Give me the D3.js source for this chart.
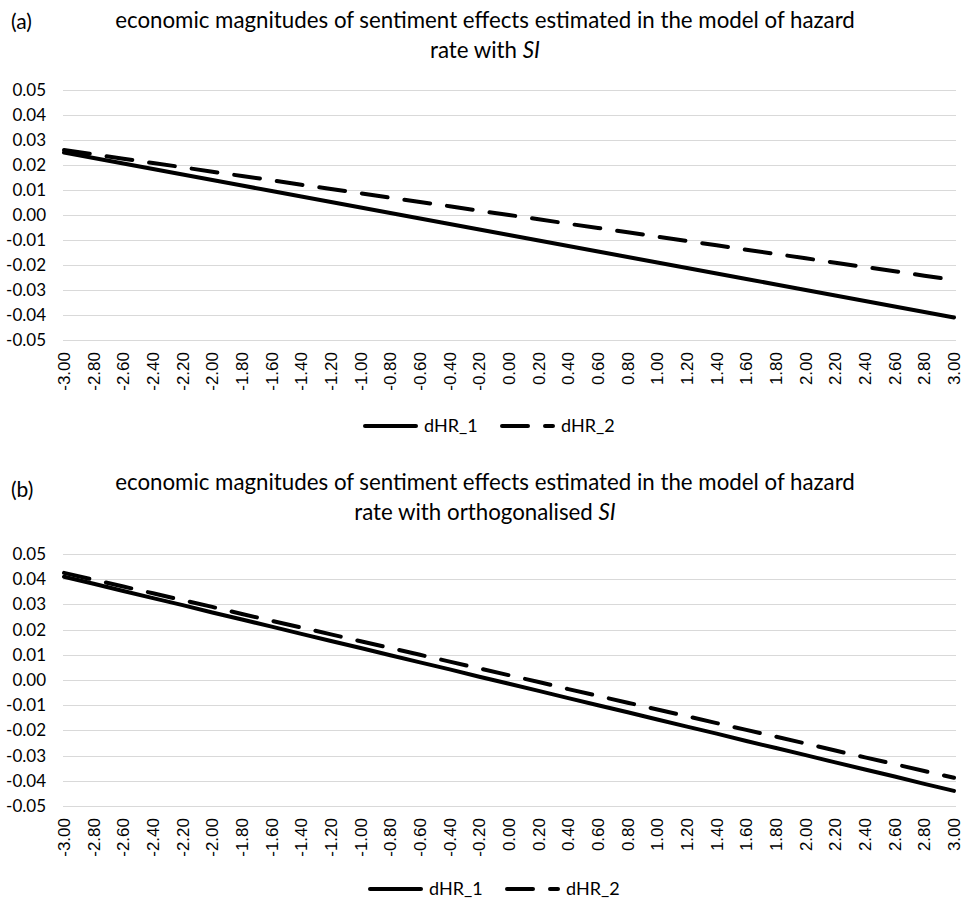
<!DOCTYPE html>
<meta charset="utf-8">
<style>
    body { margin: 0; background: #fff; }
    .grid line { stroke: #d9d9d9; stroke-width: 1; shape-rendering: crispEdges; }
    .ylab { font: 17px Lato, sans-serif; fill: #000; }
    .xlab { font: 17px "Liberation Sans", Arial, sans-serif; fill: #000; }
    .title { font-family: Lato, sans-serif; font-size: 21px; fill: #000; }
    .leg { font: 18px Lato, sans-serif; fill: #000; }
</style>
<body>
<script src="https://d3js.org/d3.v7.min.js"></script>
<script>

    var width = 966,
        height = 900;

    // categories on the x axis
    var categories = ["-3.00","-2.80","-2.60","-2.40","-2.20","-2.00","-1.80","-1.60","-1.40","-1.20",
        "-1.00","-0.80","-0.60","-0.40","-0.20","0.00","0.20","0.40","0.60","0.80",
        "1.00","1.20","1.40","1.60","1.80","2.00","2.20","2.40","2.60","2.80","3.00"];

    var yTicks = [0.05, 0.04, 0.03, 0.02, 0.01, 0.00, -0.01, -0.02, -0.03, -0.04, -0.05];

    // panel (a)
    var a_dHR1 = [0.0250, 0.0228, 0.0206, 0.0184, 0.0162, 0.0140, 0.0118, 0.0096, 0.0074, 0.0052,
        0.0030, 0.0008, -0.0014, -0.0036, -0.0058, -0.0080, -0.0102, -0.0124, -0.0146, -0.0168,
        -0.0190, -0.0212, -0.0234, -0.0256, -0.0278, -0.0300, -0.0322, -0.0344, -0.0366, -0.0388, -0.0410];
    var a_dHR2 = [0.0260, 0.0243, 0.0225, 0.0208, 0.0191, 0.0173, 0.0156, 0.0139, 0.0121, 0.0104,
        0.0087, 0.0069, 0.0052, 0.0035, 0.0017, 0.0000, -0.0017, -0.0035, -0.0052, -0.0069,
        -0.0087, -0.0104, -0.0121, -0.0139, -0.0156, -0.0173, -0.0191, -0.0208, -0.0225, -0.0243, -0.0260];

    // panel (b)
    var b_dHR1 = [0.0410, 0.0382, 0.0353, 0.0325, 0.0297, 0.0268, 0.0240, 0.0212, 0.0183, 0.0155,
        0.0127, 0.0098, 0.0070, 0.0042, 0.0013, -0.0015, -0.0043, -0.0072, -0.0100, -0.0128,
        -0.0157, -0.0185, -0.0213, -0.0242, -0.0270, -0.0298, -0.0327, -0.0355, -0.0383, -0.0412, -0.0440];
    var b_dHR2 = [0.0425, 0.0398, 0.0371, 0.0344, 0.0317, 0.0290, 0.0262, 0.0235, 0.0208, 0.0181,
        0.0154, 0.0127, 0.0100, 0.0073, 0.0046, 0.0019, -0.0008, -0.0036, -0.0063, -0.0090,
        -0.0117, -0.0144, -0.0171, -0.0198, -0.0225, -0.0252, -0.0280, -0.0307, -0.0334, -0.0361, -0.0388];

    var seriesNames = ["dHR_1", "dHR_2"];

    var svg = d3.select("body").append("svg")
        .attr("width", width)
        .attr("height", height);

    var x = d3.scalePoint()
        .domain(categories)
        .range([64, 954]);

    var dash = "26,17";

    function panel(opt) {
        var g = svg.append("g");

        var y = d3.scaleLinear()
            .domain([-0.05, 0.05])
            .range([opt.bottom, opt.top]);

        // panel letter + title
        g.append("text").attr("class", "title")
            .attr("x", 11).attr("y", opt.letterY)
            .style("font-size", "21px")
            .text(opt.letter);

        var t1 = g.append("text").attr("class", "title")
            .attr("x", 485).attr("y", opt.titleY)
            .attr("text-anchor", "middle")
            .text("economic magnitudes of sentiment effects estimated in the model of hazard");

        // size the title so its first line spans about 740px as in the original
        var fs = 21 * 740 / t1.node().getComputedTextLength();
        t1.style("font-size", fs + "px");

        var t2 = g.append("text").attr("class", "title")
            .attr("x", 485).attr("y", opt.titleY + 30)
            .attr("text-anchor", "middle")
            .style("font-size", fs + "px");
        t2.append("tspan").text(opt.line2);
        t2.append("tspan").style("font-style", "italic").text("SI");

        // gridlines
        g.append("g").attr("class", "grid")
            .selectAll("line")
            .data(yTicks)
            .enter().append("line")
            .attr("x1", 63).attr("x2", 956)
            .attr("y1", function(d) { return Math.round(y(d)) + 0.5; })
            .attr("y2", function(d) { return Math.round(y(d)) + 0.5; });

        g.append("g").selectAll("text")
            .data(yTicks)
            .enter().append("text")
            .attr("class", "ylab")
            .attr("x", 46)
            .attr("y", function(d) { return y(d); })
            .attr("dy", "0.35em")
            .attr("text-anchor", "end")
            .text(function(d) { return d3.format(".2f")(d).replace("−", "-"); });

        // x labels rotated
        g.append("g").selectAll("text")
            .data(categories)
            .enter().append("text")
            .attr("class", "xlab")
            .attr("transform", function(d) { return "translate(" + x(d) + "," + opt.xLabY + ") rotate(-90)"; })
            .attr("dy", "0.35em")
            .attr("text-anchor", "end")
            .text(function(d) { return d; });

        var line = d3.line()
            .x(function(d, i) { return x(categories[i]); })
            .y(function(d) { return y(d); });

        [opt.s1, opt.s2].forEach(function(s, k) {
            g.append("path")
                .datum(s)
                .attr("d", line)
                .attr("fill", "none")
                .attr("stroke", "#000")
                .attr("stroke-width", 4)
                .attr("stroke-linecap", "round")
                .attr("stroke-dasharray", k === 1 ? dash : null);
        });

        // legend
        var lg = g.append("g").attr("transform", "translate(" + opt.legX + "," + opt.legY + ")");
        seriesNames.forEach(function(name, k) {
            var ox = k * 137;
            lg.append("line")
                .attr("x1", ox + 2).attr("x2", ox + 53)
                .attr("y1", 0).attr("y2", 0)
                .attr("stroke", "#000")
                .attr("stroke-width", 4)
                .attr("stroke-linecap", "round")
                .attr("stroke-dasharray", k === 1 ? dash : null);
            lg.append("text").attr("class", "leg")
                .attr("x", ox + 61).attr("y", 0)
                .attr("dy", "0.35em")
                .text(name);
        });
    }

    panel({ letter: "(a)", letterY: 29, titleY: 28, line2: "rate with ",
        top: 90, bottom: 340, xLabY: 352, s1: a_dHR1, s2: a_dHR2, legX: 363, legY: 426 });

    panel({ letter: "(b)", letterY: 497, titleY: 490, line2: "rate with orthogonalised ",
        top: 554, bottom: 806, xLabY: 818, s1: b_dHR1, s2: b_dHR2, legX: 368, legY: 889 });

</script>
